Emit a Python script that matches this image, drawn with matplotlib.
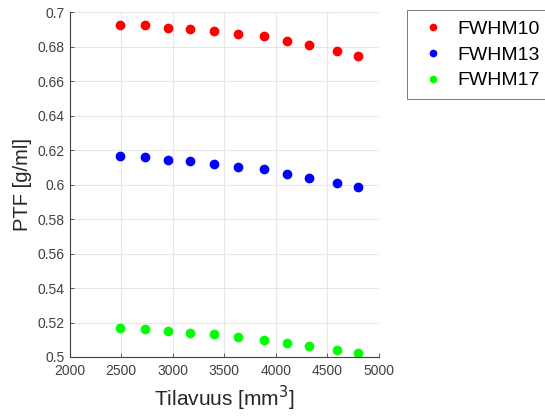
import numpy as np
import matplotlib.pyplot as plt

plt.rcParams['font.family'] = ['Liberation Sans', 'DejaVu Sans']

# volumes (mm^3)
volume = [2488, 2731, 2951, 3172, 3405, 3634, 3883, 4110, 4320, 4592, 4799]
fwhm10 = [0.6926, 0.6925, 0.6909, 0.6903, 0.6892, 0.6874, 0.6859, 0.6832, 0.6809, 0.6772, 0.6743]
fwhm13 = [0.6163, 0.6159, 0.6144, 0.6136, 0.6122, 0.6103, 0.6088, 0.6063, 0.6041, 0.6010, 0.5985]
fwhm17 = [0.5166, 0.5162, 0.5148, 0.5139, 0.5131, 0.5114, 0.5100, 0.5081, 0.5066, 0.5041, 0.5023]

series = [("FWHM10", fwhm10, (1, 0, 0)),
          ("FWHM13", fwhm13, (0, 0, 1)),
          ("FWHM17", fwhm17, (0, 1, 0))]

fig = plt.figure(figsize=(5.45, 4.19), dpi=100)
ax = fig.add_axes([0.128, 0.148, 0.567, 0.823])

for name, vals, col in series:
    ax.plot(volume, vals, 'o', color=col, markersize=6, label=name)

ax.set_xlim(2000, 5000)
ax.set_ylim(0.5, 0.7)
ax.set_xticks(np.arange(2000, 5001, 500))
yt = np.round(np.arange(0.5, 0.701, 0.02), 2)
ax.set_yticks(yt)
ax.set_yticklabels([f"{v:g}" for v in yt])
ax.grid(True, color='#e6e6e6', linewidth=0.8)
ax.set_axisbelow(True)
ax.spines['top'].set_visible(False)
ax.spines['right'].set_visible(False)
for s in ['left', 'bottom']:
    ax.spines[s].set_color('#404040')
    ax.spines[s].set_linewidth(0.8)
ax.tick_params(direction='in', length=3, labelsize=10, colors='#404040', width=0.6)
ax.tick_params(axis='x', pad=5)

ax.set_xlabel('Tilavuus [mm$^3$]', fontsize=15, color='#262626')
ax.set_ylabel('PTF [g/ml]', fontsize=14.5, color='#262626')

leg = fig.legend(loc='upper left', bbox_to_anchor=(0.747, 0.975), bbox_transform=fig.transFigure,
                 borderaxespad=0, fontsize=14, fancybox=False, edgecolor='#404040',
                 handletextpad=0.4, labelspacing=0.42, borderpad=0.5, handlelength=1.7,
                 markerscale=0.75)
leg.get_frame().set_linewidth(0.6)

plt.savefig("out.png", dpi=100)
